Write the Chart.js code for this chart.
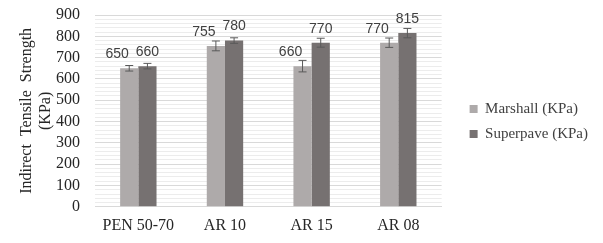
<!DOCTYPE html>
<html>
<head>
<meta charset="utf-8">
<script src="https://cdn.jsdelivr.net/npm/chart.js@4"></script>
<style>
  body { margin: 0; background: #fff; }
  #wrap { width: 603px; height: 243px; }
</style>
</head>
<body>
<div id="wrap"><canvas id="itsChart" width="603" height="243"></canvas></div>
<script>
const categories = ['PEN 50-70', 'AR 10', 'AR 15', 'AR 08'];
const marshall = [650, 755, 660, 770];
const superpave = [660, 780, 770, 815];
const marshallErr = [13, 23, 27, 22];
const superpaveErr = [13, 13, 21, 22];
const yTicks = [0, 100, 200, 300, 400, 500, 600, 700, 800, 900];

// error bars, drawn from the bar elements and the y scale
const errorBars = {
  id: 'errorBars',
  afterDatasetsDraw(chart) {
    const ctx = chart.ctx;
    const y = chart.scales.y;
    chart.data.datasets.forEach((ds, i) => {
      const meta = chart.getDatasetMeta(i);
      meta.data.forEach((bar, j) => {
        const top = y.getPixelForValue(ds.data[j] + ds.err[j]);
        const bot = y.getPixelForValue(ds.data[j] - ds.err[j]);
        ctx.save();
        ctx.strokeStyle = '#595959';
        ctx.lineWidth = 1;
        ctx.beginPath();
        ctx.moveTo(bar.x, top); ctx.lineTo(bar.x, bot);
        ctx.moveTo(bar.x - 4, top); ctx.lineTo(bar.x + 4, top);
        ctx.moveTo(bar.x - 4, bot); ctx.lineTo(bar.x + 4, bot);
        ctx.stroke();
        ctx.restore();
      });
    });
  }
};

// value labels above each bar
const valueLabels = {
  id: 'valueLabels',
  afterDatasetsDraw(chart) {
    const ctx = chart.ctx;
    const y = chart.scales.y;
    chart.data.datasets.forEach((ds, i) => {
      const meta = chart.getDatasetMeta(i);
      const shift = i === 0 ? -12 : 0;
      meta.data.forEach((bar, j) => {
        ctx.save();
        ctx.fillStyle = '#404040';
        ctx.font = '14px "Liberation Sans", Arial, sans-serif';
        ctx.textAlign = 'center';
        ctx.textBaseline = 'middle';
        ctx.fillText(String(ds.data[j]), bar.x + shift, y.getPixelForValue(ds.data[j]) - 14);
        ctx.restore();
      });
    });
  }
};

// push the legend a bit away from the plot
const legendShift = {
  id: 'legendShift',
  afterLayout(chart) {
    const lg = chart.legend;
    if (!lg) return;
    lg.left += 18;
    lg.right += 18;
    lg.top -= 8;
    lg.bottom -= 8;
  }
};

const serif = '"Liberation Serif", "Times New Roman", serif';

new Chart(document.getElementById('itsChart'), {
  type: 'bar',
  data: {
    labels: categories,
    datasets: [
      { label: 'Marshall (KPa)', data: marshall, err: marshallErr, backgroundColor: '#aeaaaa' },
      { label: 'Superpave (KPa)', data: superpave, err: superpaveErr, backgroundColor: '#767171' }
    ]
  },
  options: {
    responsive: false,
    animation: false,
    devicePixelRatio: 1,
    barPercentage: 1,
    categoryPercentage: 0.42,
    layout: { padding: { left: 16, right: 23, top: 15, bottom: -1 } },
    plugins: {
      tooltip: { enabled: false },
      legend: {
        position: 'right',
        labels: {
          color: '#404040',
          font: { family: serif, size: 15 },
          boxWidth: 8,
          boxHeight: 8,
          padding: 10
        }
      }
    },
    scales: {
      x: {
        grid: { display: false, drawTicks: false },
        border: { display: true, color: '#d9d9d9' },
        ticks: { color: '#262626', font: { family: serif, size: 16 }, padding: 9 }
      },
      y: {
        min: 0,
        max: 900,
        afterBuildTicks(axis) {
          const t = [];
          for (let v = 0; v <= 900; v += 20) t.push({ value: v });
          axis.ticks = t;
        },
        afterFit(axis) {
          axis.width = 79;
          axis.paddingTop = 0;
          axis.paddingBottom = 0;
        },
        ticks: {
          autoSkip: false,
          padding: 15,
          color: '#262626',
          font: { family: serif, size: 16 },
          callback: v => (yTicks.includes(v) ? v : '')
        },
        grid: {
          drawTicks: false,
          color: c => (c.tick && c.tick.value % 100 === 0 ? '#d9d9d9' : '#ececec')
        },
        border: { display: false },
        title: {
          display: true,
          text: ['Indirect  Tensile  Strength', '(KPa)'],
          color: '#262626',
          font: { family: serif, size: 16 },
          padding: { top: 1, bottom: 0 }
        }
      }
    }
  },
  plugins: [errorBars, valueLabels, legendShift]
});
</script>
</body>
</html>
